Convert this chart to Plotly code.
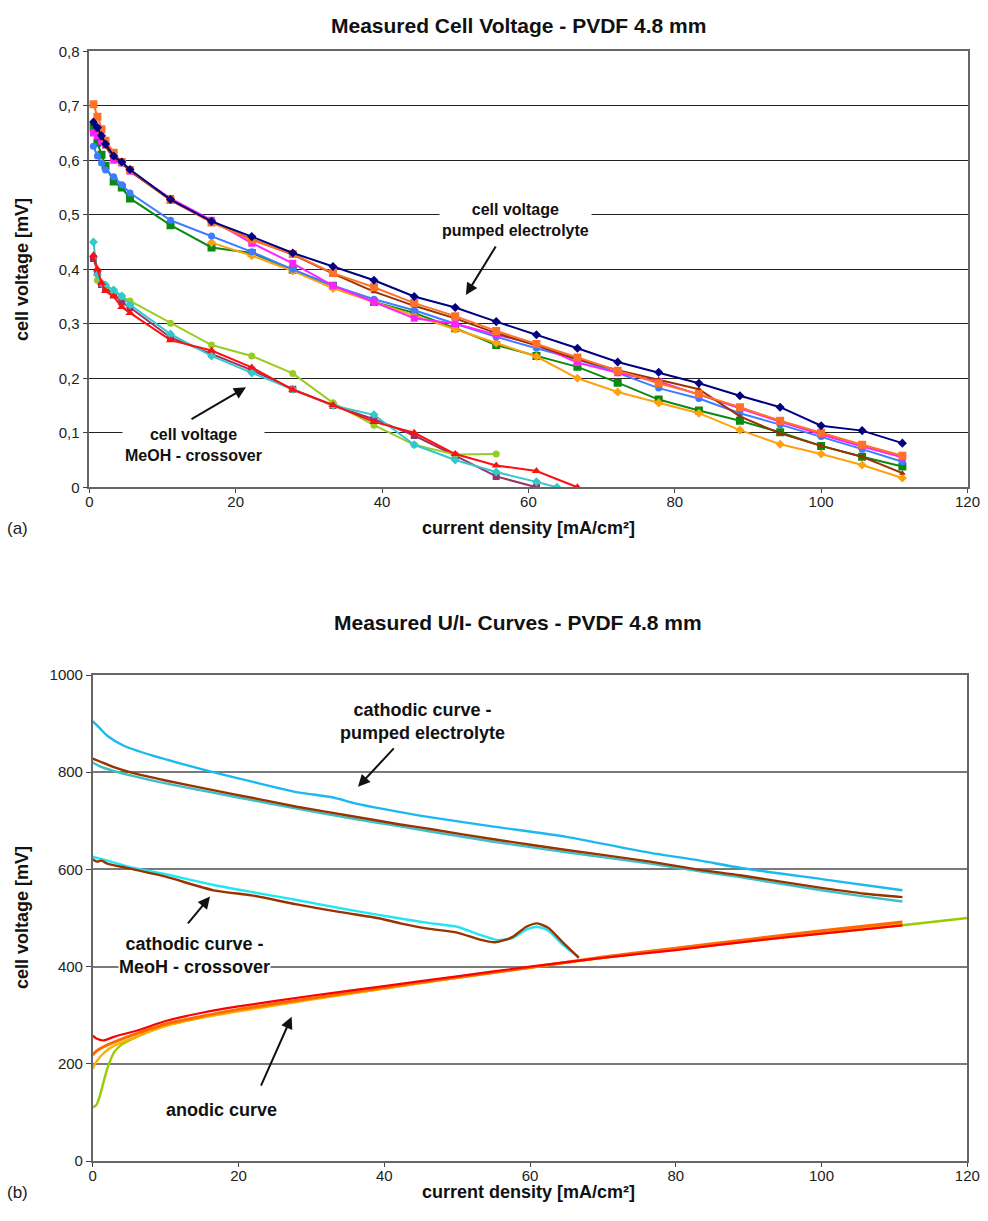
import plotly.graph_objects as go

# ---------------- (a) measured cell voltage, PVDF 4.8 mm ----------------
i_full = [0.56, 1.11, 1.67, 2.22, 3.33, 4.44, 5.56, 11.1, 16.7, 22.2, 27.8, 33.3, 38.9,
          44.4, 50.0, 55.6, 61.1, 66.7, 72.2, 77.8, 83.3, 88.9, 94.4, 100.0, 105.6, 111.1]

u_navy = [0.670, 0.660, 0.645, 0.630, 0.608, 0.597, 0.583, 0.528, 0.488, 0.460, 0.430,
          0.405, 0.380, 0.350, 0.330, 0.304, 0.280, 0.255, 0.230, 0.211, 0.191, 0.168,
          0.147, 0.113, 0.104, 0.081]
u_orange = [0.703, 0.680, 0.657, 0.636, 0.614, 0.597, 0.582, 0.527, 0.486, 0.454, 0.428,
            0.393, 0.367, 0.338, 0.314, 0.287, 0.263, 0.238, 0.214, 0.191, 0.171, 0.147,
            0.122, 0.100, 0.078, 0.058]
u_brown = [0.665, 0.655, 0.640, 0.625, 0.605, 0.595, 0.580, 0.527, 0.487, 0.455, 0.427,
           0.392, 0.359, 0.333, 0.310, 0.283, 0.260, 0.235, 0.215, 0.198, 0.180, 0.130,
           0.099, 0.076, 0.056, 0.026]
u_magenta = [0.650, 0.645, 0.635, 0.628, 0.600, 0.595, 0.580, 0.530, 0.490, 0.448, 0.411,
             0.370, 0.340, 0.310, 0.300, 0.280, 0.262, 0.229, 0.210, 0.194, 0.170, 0.145,
             0.120, 0.097, 0.075, 0.055]
u_blue = [0.626, 0.608, 0.595, 0.582, 0.570, 0.555, 0.540, 0.490, 0.461, 0.432, 0.400,
          0.370, 0.345, 0.325, 0.300, 0.276, 0.255, 0.235, 0.210, 0.182, 0.163, 0.136,
          0.115, 0.093, 0.070, 0.047]
u_green = [0.660, 0.632, 0.610, 0.590, 0.561, 0.550, 0.530, 0.481, 0.440, 0.430, 0.399,
           0.370, 0.340, 0.320, 0.292, 0.261, 0.241, 0.221, 0.192, 0.161, 0.141, 0.122,
           0.101, 0.076, 0.056, 0.038]

i_amber = [16.7, 22.2, 27.8, 33.3, 38.9, 44.4, 50.0, 55.6, 61.1, 66.7, 72.2, 77.8, 83.3,
           88.9, 94.4, 100.0, 105.6, 111.1]
u_amber = [0.449, 0.425, 0.397, 0.365, 0.340, 0.315, 0.290, 0.265, 0.240, 0.200, 0.175,
           0.155, 0.136, 0.105, 0.079, 0.061, 0.041, 0.017]

i_red = [0.56, 1.11, 1.67, 2.22, 3.33, 4.44, 5.56, 11.1, 16.7, 22.2, 27.8, 33.3, 38.9,
         44.4, 50.0, 55.6, 61.1, 66.7]
u_red = [0.426, 0.400, 0.375, 0.360, 0.350, 0.331, 0.320, 0.270, 0.251, 0.220, 0.179,
         0.151, 0.120, 0.100, 0.061, 0.040, 0.030, 0.000]

i_cyan = [0.56, 1.11, 1.67, 2.22, 3.33, 4.44, 5.56, 11.1, 16.7, 22.2, 27.8, 33.3, 38.9,
          44.4, 50.0, 55.6, 61.1, 63.9]
u_cyan = [0.450, 0.390, 0.375, 0.371, 0.362, 0.351, 0.335, 0.281, 0.241, 0.210, 0.180,
          0.150, 0.133, 0.078, 0.050, 0.028, 0.010, 0.000]

i_purple = [0.56, 1.11, 1.67, 2.22, 3.33, 4.44, 5.56, 11.1, 16.7, 22.2, 27.8, 33.3, 38.9,
            44.4, 50.0, 55.6, 61.1]
u_purple = [0.420, 0.395, 0.372, 0.365, 0.355, 0.340, 0.330, 0.275, 0.245, 0.215, 0.180,
            0.150, 0.125, 0.095, 0.058, 0.020, 0.000]

i_ygreen = [1.11, 2.22, 3.33, 4.44, 5.56, 11.1, 16.7, 22.2, 27.8, 33.3, 38.9, 44.4, 50.0, 55.6]
u_ygreen = [0.380, 0.370, 0.360, 0.350, 0.342, 0.301, 0.261, 0.241, 0.209, 0.155, 0.114,
            0.078, 0.060, 0.061]

# ---------------- (b) measured U/I curves, PVDF 4.8 mm ----------------
i_cp_blue = [0, 1, 2, 4.2, 8, 12, 16.5, 22, 28, 33, 36, 40, 46, 55, 65, 76.5, 83, 89, 100, 111.1]
u_cp_blue = [905, 890, 875, 855, 835, 818, 800, 780, 759, 748, 736, 724, 708, 688, 667,
             634, 619, 603, 580, 557]

i_cp_brown = [0, 1, 3, 5.6, 10, 16.5, 22, 28, 35, 42, 46.3, 55, 65, 76.5, 83.3, 88.8, 100, 106, 111.1]
u_cp_brown = [828, 822, 810, 798, 783, 763, 747, 729, 711, 693, 683, 662, 640, 616, 599,
              588, 562, 550, 543]

i_cp_teal = [0, 1, 3, 5.6, 10, 16.5, 22, 28, 35, 42, 46.3, 55, 65, 76.5, 83.3, 88.8, 100, 106, 111.1]
u_cp_teal = [820, 812, 802, 792, 777, 758, 742, 725, 706, 689, 678, 657, 635, 612, 596,
             584, 557, 544, 534]

i_cm_cyan = [0, 2, 5, 10, 16.6, 22, 28, 34, 39.4, 42.2, 46, 50, 53, 55.4, 57.5, 59.5, 61, 62.5, 64.5, 66.7]
u_cm_cyan = [626, 618, 605, 590, 568, 553, 537, 520, 506, 499, 490, 482, 466, 455, 458,
             476, 482, 474, 445, 420]

i_cm_brown = [0, 0.6, 1.2, 2, 5, 10, 16.6, 22, 28, 34, 39.4, 42.2, 46, 50, 53, 55.2, 57.5, 59.5, 61, 62.5, 64.5, 66.7]
u_cm_brown = [621, 616, 618, 612, 602, 585, 557, 546, 528, 512, 499, 489, 478, 470, 456,
              450, 460, 482, 489, 480, 450, 418]

i_an = [0, 0.5, 1.5, 3, 6, 10, 15, 20, 30, 40, 50, 60, 70, 80, 90, 100, 111.1]
u_an_red = [258, 252, 248, 256, 268, 288, 305, 318, 340, 360, 380, 400, 418, 434, 452, 468, 485]
u_an_orange = [218, 226, 235, 245, 262, 282, 298, 312, 335, 357, 378, 398, 420, 438, 456, 474, 492]
u_an_amber = [190, 204, 222, 238, 256, 278, 295, 308, 332, 355, 377, 398, 418, 436, 453, 470, 488]

i_an_green = [0, 0.5, 1, 2, 3, 4, 6, 10, 15, 20, 30, 40, 50, 60, 70, 80, 90, 100, 111.1, 120]
u_an_green = [110, 115, 135, 190, 225, 240, 255, 278, 295, 310, 333, 355, 377, 398, 418,
              435, 452, 468, 485, 500]

x_ticks = [0, 20, 40, 60, 80, 100, 120]
ya_ticks = [0, 0.1, 0.2, 0.3, 0.4, 0.5, 0.6, 0.7, 0.8]
ya_labels = ["0", "0,1", "0,2", "0,3", "0,4", "0,5", "0,6", "0,7", "0,8"]
yb_ticks = [0, 200, 400, 600, 800, 1000]

NARROW = "Liberation Sans Narrow, Arial Narrow, Liberation Sans, Arial, sans-serif"
SANS = "Liberation Sans, Arial, sans-serif"

W, H = 988, 1221


def px_x(px):
    return px / W


def px_y(py):
    return 1 - py / H


fig = go.Figure()


def marked(x, y, color, symbol, size=7, width=2):
    fig.add_trace(go.Scatter(
        x=x, y=y, mode="lines+markers", xaxis="x", yaxis="y",
        line=dict(color=color, width=width),
        marker=dict(color=color, symbol=symbol, size=size, line=dict(width=0)),
        showlegend=False))


def smooth(x, y, color, width=2.4):
    fig.add_trace(go.Scatter(
        x=x, y=y, mode="lines", xaxis="x2", yaxis="y2",
        line=dict(color=color, width=width, shape="spline", smoothing=0.6),
        showlegend=False))


# pumped electrolyte series
marked(i_full, u_green, "#0A8A12", "square", 8)
marked(i_amber, u_amber, "#FFA010", "diamond", 7)
marked(i_full, u_blue, "#3D7DFF", "circle", 7)
marked(i_full, u_magenta, "#FF22FF", "square", 7)
marked(i_full, u_brown, "#993300", "triangle-up", 6)
marked(i_full, u_orange, "#FF7028", "square", 8)
marked(i_full, u_navy, "#000080", "diamond", 7)
# MeOH crossover series
marked(i_purple, u_purple, "#993366", "square", 7)
marked(i_ygreen, u_ygreen, "#99CC22", "circle", 7)
marked(i_cyan, u_cyan, "#33C8CC", "diamond", 7)
marked(i_red, u_red, "#FF1010", "triangle-up", 8)

# U/I curves
smooth(i_cp_teal, u_cp_teal, "#3CC0C8")
smooth(i_cp_brown, u_cp_brown, "#993300")
smooth(i_cp_blue, u_cp_blue, "#1CB8F0")
smooth(i_cm_cyan, u_cm_cyan, "#22E6F2")
smooth(i_cm_brown, u_cm_brown, "#993300")
smooth(i_an_green, u_an_green, "#99CC00")
smooth(i_an, u_an_amber, "#FFB000")
smooth(i_an, u_an_orange, "#FF6A00", 3)
smooth(i_an, u_an_red, "#FF0000", 2.2)

axis_common = dict(
    showline=True, linecolor="#666666", linewidth=1.5, mirror=True,
    ticks="outside", tickcolor="#444444", zeroline=False,
    automargin=False,
    tickfont=dict(family=NARROW, size=15, color="#222222"),
)
x_extra = dict(ticklen=4, ticklabelstandoff=-4)
y_extra = dict(ticklen=5)

fig.update_layout(
    width=W, height=H,
    margin=dict(l=0, r=0, t=0, b=0, pad=0, autoexpand=False),
    paper_bgcolor="white", plot_bgcolor="white",
    separators=", ",
    showlegend=False,
    xaxis=dict(domain=[px_x(89.3), px_x(967.5)], range=[0, 120], tickvals=x_ticks,
               showgrid=False, anchor="y", **axis_common, **x_extra),
    yaxis=dict(domain=[px_y(487.3), px_y(51.3)], range=[0, 0.8], tickvals=ya_ticks,
               ticktext=ya_labels, showgrid=True, gridcolor="#222222", gridwidth=1,
               anchor="x", **axis_common, **y_extra),
    xaxis2=dict(domain=[px_x(92.7), px_x(967.3)], range=[0, 120], tickvals=x_ticks,
                showgrid=False, anchor="y2", **axis_common, **x_extra),
    yaxis2=dict(domain=[px_y(1161), px_y(675)], range=[0, 1000], tickvals=yb_ticks,
                showgrid=True, gridcolor="#7a7a7a", gridwidth=1.5,
                anchor="x2", **axis_common, **y_extra),
)

title_font = dict(family=NARROW, size=21, color="#111111")
axis_title_font = dict(family=NARROW, size=18, color="#111111")
label_font = dict(family=SANS, size=16, color="#111111")
label_font_b = dict(family=SANS, size=18, color="#111111")
panel_font = dict(family=NARROW, size=17, color="#222222")

paper_texts = [
    ("<b>Measured Cell Voltage - PVDF 4.8 mm</b>", 518, 25, title_font, 0),
    ("<b>current density [mA/cm²]</b>", 528, 528, axis_title_font, 0),
    ("<b>cell voltage [mV]</b>", 22, 270, axis_title_font, -90),
    ("(a)", 17, 528, panel_font, 0),
    ("<b>Measured U/I- Curves - PVDF 4.8 mm</b>", 518, 623, title_font, 0),
    ("<b>current density [mA/cm²]</b>", 528, 1192, axis_title_font, 0),
    ("<b>cell voltage [mV]</b>", 22, 918, axis_title_font, -90),
    ("(b)", 17, 1192, panel_font, 0),
]
for text, x, y, font, angle in paper_texts:
    fig.add_annotation(text=text, x=px_x(x), y=px_y(y), xref="paper", yref="paper",
                       xanchor="center", yanchor="middle", showarrow=False,
                       font=font, textangle=angle)

# labels in data coordinates (white boxes hide the gridline behind them)
fig.add_annotation(text="<b>cell voltage<br>pumped electrolyte</b>", x=58.3, y=0.4905,
                   xref="x", yref="y", showarrow=False, font=label_font,
                   bgcolor="white", borderpad=2)
fig.add_annotation(text="<b>cell voltage<br>MeOH - crossover</b>", x=14.2, y=0.077,
                   xref="x", yref="y", showarrow=False, font=label_font,
                   bgcolor="white", borderpad=2)
fig.add_annotation(text="<b>cathodic curve -<br>pumped electrolyte</b>", x=45.3, y=905,
                   xref="x2", yref="y2", showarrow=False, font=label_font_b,
                   bgcolor="white", borderpad=2)
fig.add_annotation(text="<b>cathodic curve -<br>MeoH - crossover</b>", x=14.0, y=422,
                   xref="x2", yref="y2", showarrow=False, font=label_font_b,
                   bgcolor="white", borderpad=0)
fig.add_annotation(text="<b>anodic curve</b>", x=17.7, y=105,
                   xref="x2", yref="y2", showarrow=False, font=label_font_b)

# arrows: (tail -> head) in data coordinates
arrows = [
    ("x", "y", 55.66, 0.4446, 51.46, 0.3528),
    ("x", "y", 13.76, 0.1235, 21.41, 0.1835),
    ("x2", "y2", 41.5, 852, 36.4, 770),
    ("x2", "y2", 12.9, 486, 16.1, 544),
    ("x2", "y2", 23.0, 152, 27.3, 297),
]
for xr, yr, x0, y0, x1, y1 in arrows:
    fig.add_annotation(x=x1, y=y1, ax=x0, ay=y0, xref=xr, yref=yr, axref=xr, ayref=yr,
                       text="", showarrow=True, arrowhead=2, arrowsize=1.2,
                       arrowwidth=2, arrowcolor="#111111")

fig.write_html("out.html")
